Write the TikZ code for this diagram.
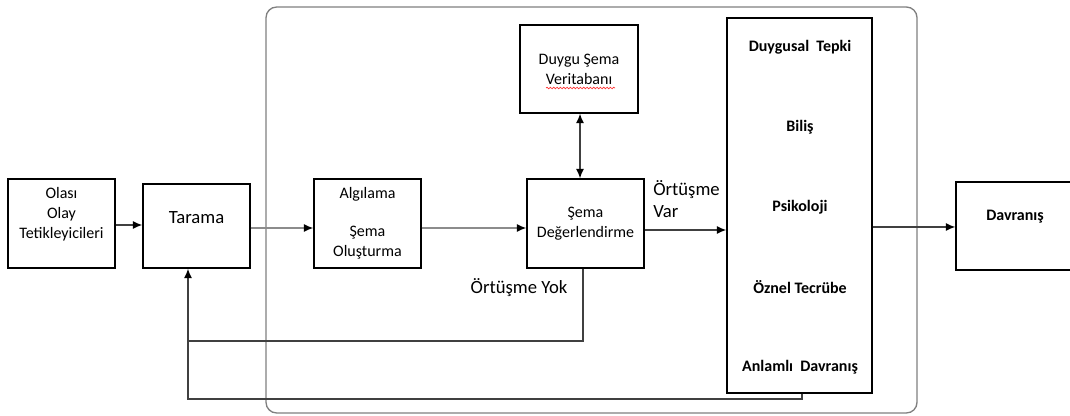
\documentclass[tikz,border=0pt]{standalone}
\usepackage{fontspec}
\setmainfont{Carlito}
\usetikzlibrary{positioning,arrows.meta,decorations.pathmorphing}

\begin{document}
\begin{tikzpicture}[x=0.75pt,y=-0.75pt,
    kutu/.style={draw,line width=1.1pt,inner sep=0pt,align=center,font=\fontsize{12}{15}\selectfont},
    yazi/.style={inner sep=0pt,align=center,font=\fontsize{12}{15}\selectfont},
    kalin/.style={inner sep=0pt,font=\fontsize{12}{15}\selectfont\bfseries},
    ok/.style={-{Latex[length=7pt,width=6pt,color=black]},line width=0.9pt,draw=black!75},
    ciftok/.style={{Latex[length=7pt,width=6pt,color=black]}-{Latex[length=7pt,width=6pt,color=black]},line width=0.9pt,draw=black!75},
    hat/.style={line width=0.9pt,draw=black!75}]
  \useasboundingbox (0,0) rectangle (1070,416);
  % cerceve
  \draw[black!50,line width=1pt,rounded corners=8] (266,7) rectangle (917,413);
  % kutular
  \node[kutu,minimum width=80.25pt,minimum height=66.75pt] (olasi) at (61.5,223.5) {};
  \node[kutu,minimum width=80.25pt,minimum height=63pt] (tarama) at (196.5,226) {};
  \node[kutu,minimum width=80.25pt,minimum height=66.75pt] (algi) at (367.5,223.5) {};
  \node[kutu,minimum width=87.75pt,minimum height=66.75pt] (sema) at (585.5,223.5) {Şema\\Değerlendirme};
  \node[kutu,minimum width=88.5pt,minimum height=66pt] (duygu) at (579,69) {Duygu Şema\\Veritabanı};
  \node[kutu,minimum width=108.75pt,minimum height=281.25pt] (tepki) at (799.5,205.5) {};
  \node[kutu,minimum width=91.5pt,minimum height=66pt] (davranis) at (1017,226) {};
  % yazilar
  \node[yazi] (olasiyazi) at (61.5,214) {Olası\\Olay\\Tetikleyicileri};
  \node[yazi,font=\fontsize{14}{17}\selectfont] (taramayazi) at (196.5,218) {Tarama};
  \node[yazi] (algiyazi) at (367.5,194) {Algılama};
  \node[yazi] (olusyazi) at (367.5,243) {Şema\\Oluşturma};
  \node[yazi,align=left,anchor=west,font=\fontsize{14}{16.5}\selectfont] (var) at (653,199) {Örtüşme\\Var};
  \node[yazi,font=\fontsize{14}{17}\selectfont] (yok) at (519,288) {Örtüşme Yok};
  \foreach \t [count=\i] in {Duygusal\ \ Tepki,Biliş,Psikoloji,Öznel Tecrübe,Anlamlı\ \ Davranış}
    \node[kalin] (tepki\i) at (800,-33+80*\i) {\t};
  \node[kalin] (davyazi) at (1015,217) {Davranış};
  % yazim denetimi cizgisi
  \draw[red!80,line width=0.5pt,decorate,decoration={snake,amplitude=0.6pt,segment length=2.5pt}]
    (546,88) -- (615,88);
  % oklar
  \draw[ok] (olasi.east |- 0,225) -- (tarama.west |- 0,225);
  \draw[ok,draw=black!45] (tarama.east |- 0,228) -- (algi.west |- 0,228);
  \draw[ok,draw=black!45] (algi.east |- 0,228) -- (sema.west |- 0,228);
  \draw[ok] (sema.east |- 0,230) -- (tepki.west |- 0,230);
  \draw[ok] (tepki.east |- 0,227) -- (davranis.west |- 0,227);
  \draw[ciftok] (duygu.south -| 580,0) -- (sema.north -| 580,0);
  % geri besleme
  \coordinate (g1) at (188,341);
  \coordinate (g2) at (188,399);
  \draw[hat] (sema.south -| 583,0) |- (g1);
  \draw[ok] (tepki.south -| 802,0) |- (g2) -- (tarama.south -| g2);
\end{tikzpicture}
\end{document}
